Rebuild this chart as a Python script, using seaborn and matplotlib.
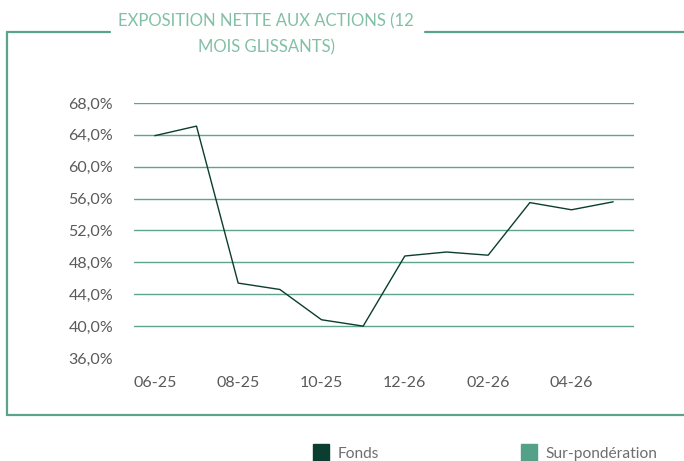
import matplotlib
matplotlib.use("Agg")
import matplotlib.pyplot as plt
import seaborn as sns
import numpy as np
import pandas as pd
from matplotlib.lines import Line2D
from matplotlib.patches import Patch

# data
months = ["06-25", "07-25", "08-25", "09-25", "10-25", "11-25",
          "12-26", "01-26", "02-26", "03-26", "04-26", "05-26"]
fonds = [63.9, 65.1, 45.4, 44.6, 40.8, 40.0, 48.8, 49.3, 48.9, 55.5, 54.6, 55.6]
yticks = [36, 40, 44, 48, 52, 56, 60, 64, 68]
title = "EXPOSITION NETTE AUX ACTIONS (12\nMOIS GLISSANTS)"
legend_labels = ["Fonds", "Sur-pondération"]

df = pd.DataFrame({"Mois": months, "Fonds": fonds})

# colours
c_fonds = "#0b3d30"
c_sur = "#55a088"
c_grid = "#5fa58c"
c_frame = "#5aa48a"
c_title = "#82c0a6"
c_text = "#5a5a5a"
c_leg = "#6e6e6e"

sns.set_style("white")
plt.rcParams['font.family'] = ['Lato', 'DejaVu Sans']

fig = plt.figure(figsize=(6.84, 4.61), dpi=100)
ax = fig.add_axes([134/684, 1-358/461, 500/684, 255/461])

sns.lineplot(x="Mois", y="Fonds", data=df, sort=False, color=c_fonds, lw=1.0, ax=ax)

ax.set_xlim(-0.5, len(months)-0.5)
ax.set_ylim(36, 68)
ax.set_yticks(yticks)
ax.yaxis.set_major_formatter(plt.FuncFormatter(lambda v, p: ("%.1f%%" % v).replace(".", ",")))
ax.set_xticks(range(0, len(months), 2))
ax.set_xticklabels(months[::2])
ax.tick_params(axis="both", length=0, labelsize=11.5, colors=c_text)
ax.tick_params(axis="y", pad=15)
ax.tick_params(axis="x", pad=13)
ax.set_xlabel(None)
ax.set_ylabel(None)
for s in ax.spines.values():
    s.set_visible(False)
ax.grid(axis="y", color=c_grid, lw=1.0)
ax.grid(axis="x", visible=False)
ax.set_axisbelow(True)
ax.get_ygridlines()[0].set_visible(False)

# frame
fy = 1-32/461
fb = 415/461
fig.add_artist(Line2D([7/684, 110/684], [fy, fy], color=c_frame, lw=1.6))
fig.add_artist(Line2D([425/684, 1.0], [fy, fy], color=c_frame, lw=1.6))
fig.add_artist(Line2D([7/684, 7/684], [fy, 1-fb], color=c_frame, lw=1.6))
fig.add_artist(Line2D([7/684, 1.0], [1-fb, 1-fb], color=c_frame, lw=1.6))

fig.text(266/684, 1-34/461, title, ha="center", va="center", color=c_title,
         fontsize=12, fontweight="normal", linespacing=1.75)

handles = [Patch(color=c_fonds), Patch(color=c_sur)]
fig.legend(handles, legend_labels, ncol=2, loc="center left",
           bbox_to_anchor=(313/684, 1-453/461), frameon=False,
           fontsize=11.2, labelcolor=c_leg, handlelength=1.05, handleheight=1.4,
           handletextpad=0.55, columnspacing=9.1, borderaxespad=0, borderpad=0)

fig.savefig("out.png", dpi=100)
